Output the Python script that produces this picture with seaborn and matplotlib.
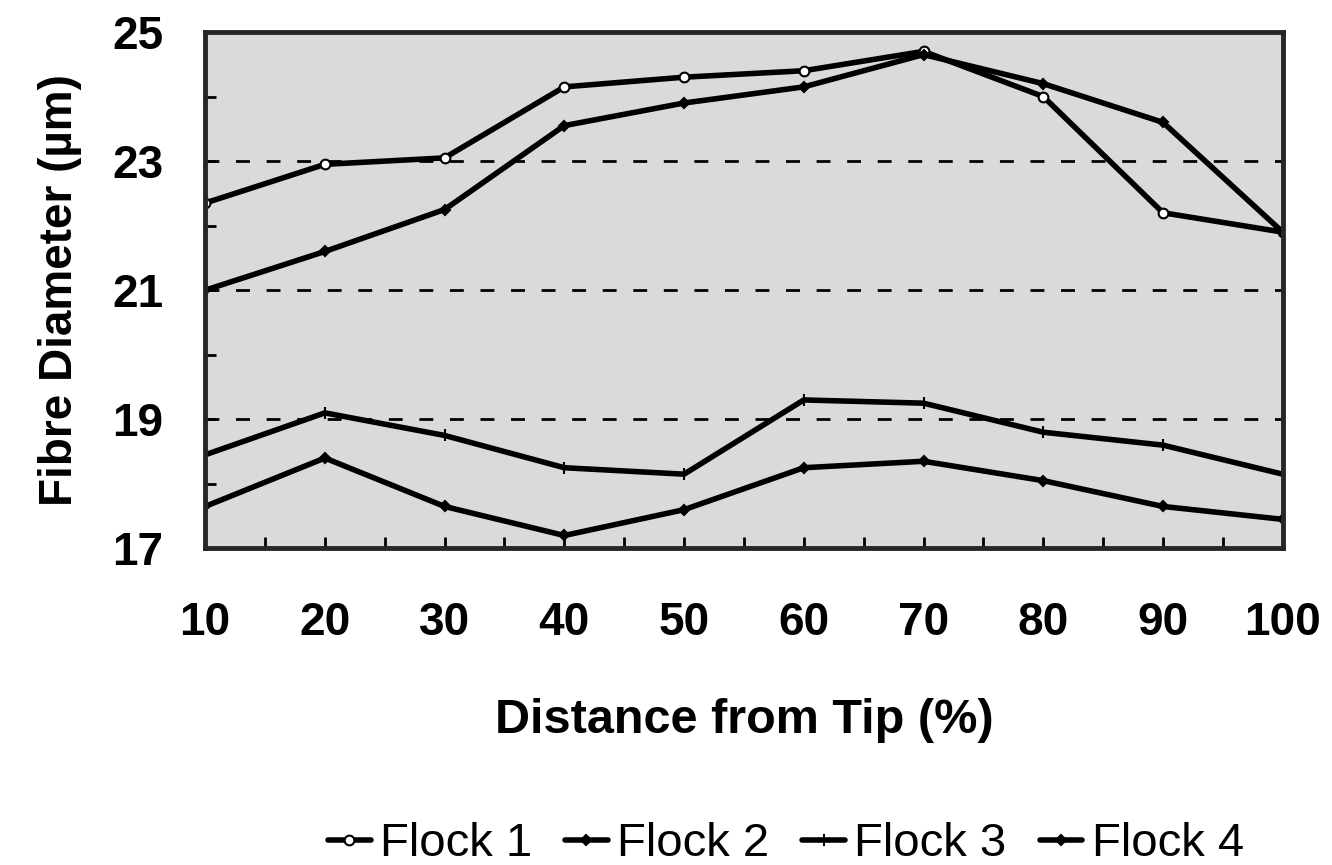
import pandas as pd
import matplotlib.pyplot as plt
import seaborn as sns

# Datos
distancia = [10, 20, 30, 40, 50, 60, 70, 80, 90, 100]
flock1 = [22.35, 22.95, 23.05, 24.15, 24.3, 24.4, 24.7, 24.0, 22.2, 21.9]
flock2 = [21.0, 21.6, 22.25, 23.55, 23.9, 24.15, 24.65, 24.2, 23.6, 21.9]
flock3 = [18.45, 19.1, 18.75, 18.25, 18.15, 19.3, 19.25, 18.8, 18.6, 18.15]
flock4 = [17.65, 18.4, 17.65, 17.2, 17.6, 18.25, 18.35, 18.05, 17.65, 17.45]
nombres = ["Flock 1", "Flock 2", "Flock 3", "Flock 4"]
y_ticks = [17, 19, 21, 23, 25]

df = pd.DataFrame({
    "Distancia": distancia * 4,
    "Diametro": flock1 + flock2 + flock3 + flock4,
    "Rebano": sum([[n] * len(distancia) for n in nombres], []),
})

sns.set_style("ticks")
plt.rcParams["font.family"] = ["Liberation Sans", "DejaVu Sans"]
plt.rcParams["text.color"] = "black"
plt.rcParams["axes.labelcolor"] = "black"
plt.rcParams["xtick.color"] = "black"
plt.rcParams["ytick.color"] = "black"

fig = plt.figure(figsize=(13.32, 8.65), dpi=100)
ax = fig.add_axes([0.154, 0.366, 0.809, 0.597])
ax.set_facecolor("#dadada")

marcadores = {"Flock 1": "o", "Flock 2": "D", "Flock 3": "|", "Flock 4": "D"}
tam = {"Flock 1": 7, "Flock 2": 5, "Flock 3": 8, "Flock 4": 5}
for n in nombres:
    sub = df[df["Rebano"] == n]
    sns.lineplot(data=sub, x="Distancia", y="Diametro", ax=ax, color="black",
                 linewidth=4, marker=marcadores[n], markersize=tam[n],
                 markerfacecolor="white" if n == "Flock 1" else "black",
                 markeredgecolor="black", markeredgewidth=1.5, label=n)

# lineas de referencia punteadas
for g in [19, 21, 23]:
    ax.axhline(g, color="black", linewidth=2, linestyle=(0, (5, 6)), zorder=1)

ax.set_xlim(10, 100)
ax.set_ylim(17, 25)
ax.set_xticks(distancia)
ax.set_xticks(range(15, 100, 10), minor=True)
ax.set_yticks(y_ticks)
ax.set_yticks([18, 20, 22, 24], minor=True)
ax.tick_params(axis="both", which="both", direction="in", width=2)
ax.tick_params(axis="both", which="major", length=8, labelsize=33)
ax.tick_params(axis="x", which="major", pad=38)
ax.tick_params(axis="y", which="major", pad=30)
ax.tick_params(axis="both", which="minor", length=8)
for lab in ax.get_xticklabels() + ax.get_yticklabels():
    lab.set_fontweight("bold")
for s in ax.spines.values():
    s.set_linewidth(3.5)

ax.set_xlabel("Distance from Tip (%)", fontsize=35, fontweight="bold", labelpad=38)
ax.set_ylabel("Fibre Diameter (µm)", fontsize=33, fontweight="bold", labelpad=22)

h, l = ax.get_legend_handles_labels()
ax.get_legend().remove()
fig.legend(h, l, loc="center", bbox_to_anchor=(0.59, 0.024), ncol=4, frameon=False,
           fontsize=34, handlelength=0.9, handletextpad=0.2, columnspacing=0.7)

plt.savefig("out.png", dpi=100)
